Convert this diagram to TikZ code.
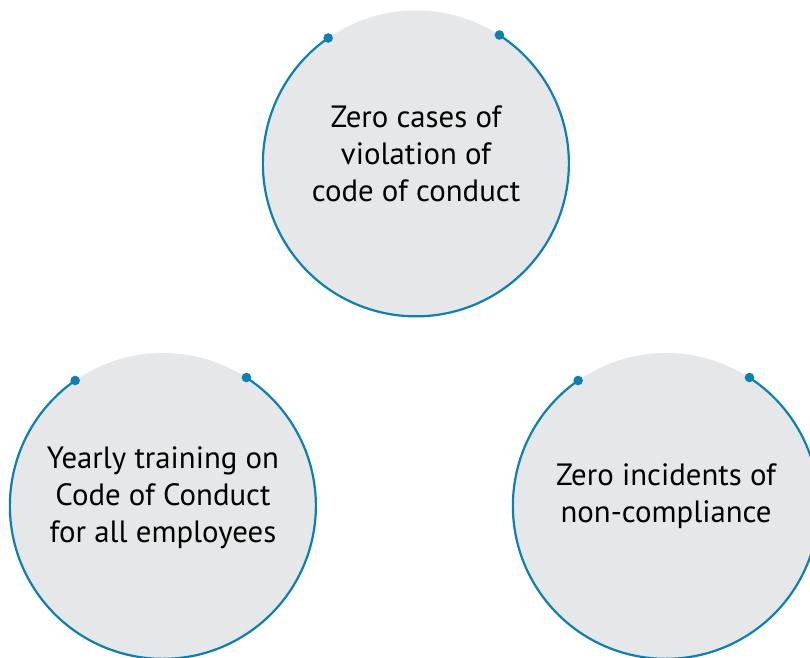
\documentclass[tikz,border=0pt]{standalone}
\usepackage{fontspec}
\setmainfont{PT Sans}
\definecolor{ringblue}{HTML}{0A80B4}
\definecolor{discgray}{HTML}{E6E7E8}
\tikzset{
  disc/.style={circle, fill=discgray, minimum size=306pt, inner sep=0pt},
  ring/.style={draw=ringblue, line width=2.2pt},
  dotmark/.style={fill=ringblue},
  label/.style={align=center, font=\fontsize{30.8}{37}\selectfont, text=black}
}
\begin{document}
\begin{tikzpicture}[x=1pt,y=1pt]
\useasboundingbox (0,0) rectangle (810,657);
\begin{scope}
\clip (0,0) rectangle (810,657);
\foreach \n/\cx/\cy in {top/416/493.5, left/163/151, right/666/151}{
  \node[disc] (\n) at (\cx,\cy) {};
  \draw[ring] (\n.125) arc[start angle=125, end angle=417.5, radius=153pt];
  \fill[dotmark] (\n.125) circle (4.8pt);
  \fill[dotmark] (\n.57.5) circle (4.8pt);
}
\end{scope}
\node[label] (ttop) at ([yshift=10]top.center) {Zero cases of\\violation of\\code of conduct};
\node[label] (tleft) at ([yshift=8]left.center) {Yearly training on\\Code of Conduct\\for all employees};
\node[label] (tright) at ([yshift=10]right.center) {Zero incidents of\\non-compliance};
\end{tikzpicture}
\end{document}
